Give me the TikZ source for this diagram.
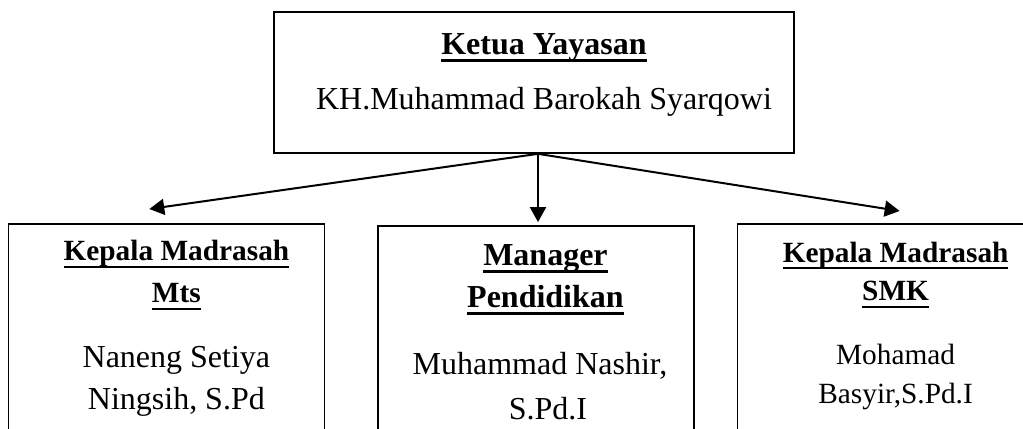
\documentclass[tikz,border=0pt]{standalone}
\usepackage{fontspec}
\setmainfont{Liberation Serif}
\usepackage{tikz}
\usetikzlibrary{arrows.meta, positioning}
\newsavebox{\hdrbx}
\newcommand{\hdr}[1]{\sbox{\hdrbx}{\textbf{#1}}\rlap{\usebox{\hdrbx}}\rule[-2.7pt]{\wd\hdrbx}{0.9pt}}
\newcommand{\sm}[1]{{\fontsize{11}{15.75}\selectfont #1}}
\tikzset{
  box/.style={rectangle, draw=black, line width=0.6pt, inner sep=0pt},
  topbox/.style={box, minimum width=195pt, minimum height=52.9pt},
  unitbox/.style={box, minimum width=118.5pt, minimum height=110pt},
  txt/.style={align=center, inner sep=0pt, anchor=north,
    font=\fontsize{12}{15.75}\selectfont},
  arrow/.style={-{Triangle[length=5.6pt, width=6pt]}, line width=0.75pt}
}

\begin{document}
\begin{tikzpicture}[x=0.375pt, y=-0.375pt]
  \useasboundingbox (0,0) rectangle (1023,428);
  \clip (0,0) rectangle (1023,428);
  % Foundation head
  \node[topbox] (yayasan) at (534,82.5) {};
  \node[txt, below=8.2pt of yayasan.north, xshift=3.75pt] (ketua) {\hdr{Ketua Yayasan}\\[4.9pt] KH.Muhammad Barokah Syarqowi};
  % Unit boxes (cut off at the bottom)
  \node[unitbox, anchor=north] (mid) at (536,225) {};
  \node[unitbox, left=19.5pt of mid, yshift=0.75pt] (mts) {};
  \node[unitbox, right=15.75pt of mid, yshift=0.75pt] (smk) {};
  \node[txt, below=6.4pt of mts.north, xshift=3.75pt] (mtstxt) {\sm{\hdr{Kepala Madrasah}}\\ \sm{\hdr{Mts}}\\[8.6pt] Naneng Setiya\\ Ningsih, S.Pd};
  \node[txt, below=7.1pt of mid.north, xshift=1.5pt] (midtxt) {\hspace*{4.1pt}\hdr{Manager}\\ \hspace*{4.1pt}\hdr{Pendidikan}\\[9.5pt] Muhammad Nashir,\\[1.1pt] \hspace*{6pt}S.Pd.I};
  \node[txt, below=6.8pt of smk.north, font=\fontsize{11}{14.6}\selectfont] (smktxt) {\hdr{Kepala Madrasah}\\ \hdr{SMK}\\[9.4pt] Mohamad\\ Basyir,S.Pd.I};
  % Arrows
  \coordinate (fork) at ([xshift=1.5pt]yayasan.south);
  \draw[arrow] (fork) -- ([xshift=-6.4pt, yshift=5.25pt]mts.north);
  \draw[arrow] (fork) -- ([xshift=0.75pt, yshift=1.1pt]mid.north);
  \draw[arrow] (fork) -- ([xshift=1.5pt, yshift=4.5pt]smk.north);
\end{tikzpicture}
\end{document}
